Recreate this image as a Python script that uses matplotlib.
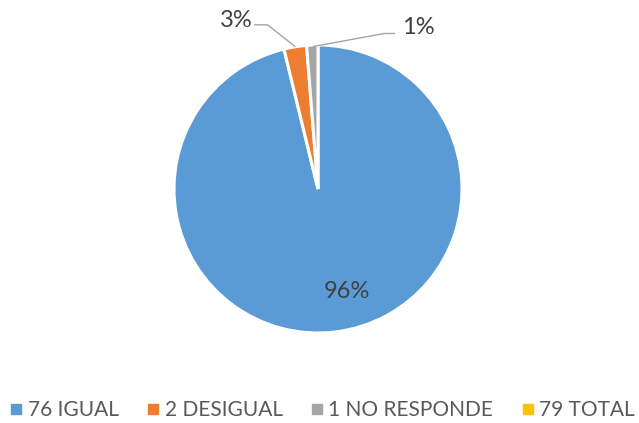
import matplotlib.pyplot as plt
from matplotlib.lines import Line2D

categories = ["IGUAL", "DESIGUAL", "NO RESPONDE", "TOTAL"]
counts = [76, 2, 1, 79]
colors = ["#5B9BD5", "#ED7D31", "#A5A5A5", "#FFC000"]

plt.rcParams['font.family'] = ['Lato', 'DejaVu Sans']

fig = plt.figure(figsize=(6.39, 4.23), dpi=100)
# pie axes: centre (318,189) px, radius 144 px
ax = fig.add_axes([(318 - 144) / 639, (423 - 189 - 144) / 423, 288 / 639, 288 / 423])

slices = counts[:3]
total = sum(slices)
wedges, _ = ax.pie(slices, colors=colors[:3], startangle=90, counterclock=False,
                   radius=1, wedgeprops=dict(edgecolor="white", linewidth=2.2))
ax.set_xlim(-1, 1)
ax.set_ylim(-1, 1)
ax.set_aspect("equal")
ax.axis("off")

pcts = ["{:.0f}%".format(v / total * 100) for v in slices]
txt_col = "#404040"
ax.text(0.2, -0.71, pcts[0], ha="center", va="center", fontsize=17, color=txt_col)

# leader lines + labels for the small slices
ax.plot([-0.16, -0.35, -0.44], [0.99, 1.14, 1.14], color="#A5A5A5", lw=1, clip_on=False)
ax.text(-0.57, 1.17, pcts[1], ha="center", va="center", fontsize=17, color=txt_col)
ax.plot([-0.03, 0.46, 0.53], [0.99, 1.08, 1.08], color="#A5A5A5", lw=1, clip_on=False)
ax.text(0.70, 1.125, pcts[2], ha="center", va="center", fontsize=17, color=txt_col)

handles = [Line2D([], [], marker="s", linestyle="", markersize=7, color=c) for c in colors]
labels = ["{} {}".format(n, c) for n, c in zip(counts, categories)]
fig.legend(handles, labels, loc="center", bbox_to_anchor=(323 / 639, (423 - 410) / 423), ncol=4,
           frameon=False, fontsize=15, labelcolor="#595959", handlelength=0.5,
           handletextpad=0.3, columnspacing=1.4, borderpad=0, borderaxespad=0)

fig.savefig("out.png", dpi=100)
